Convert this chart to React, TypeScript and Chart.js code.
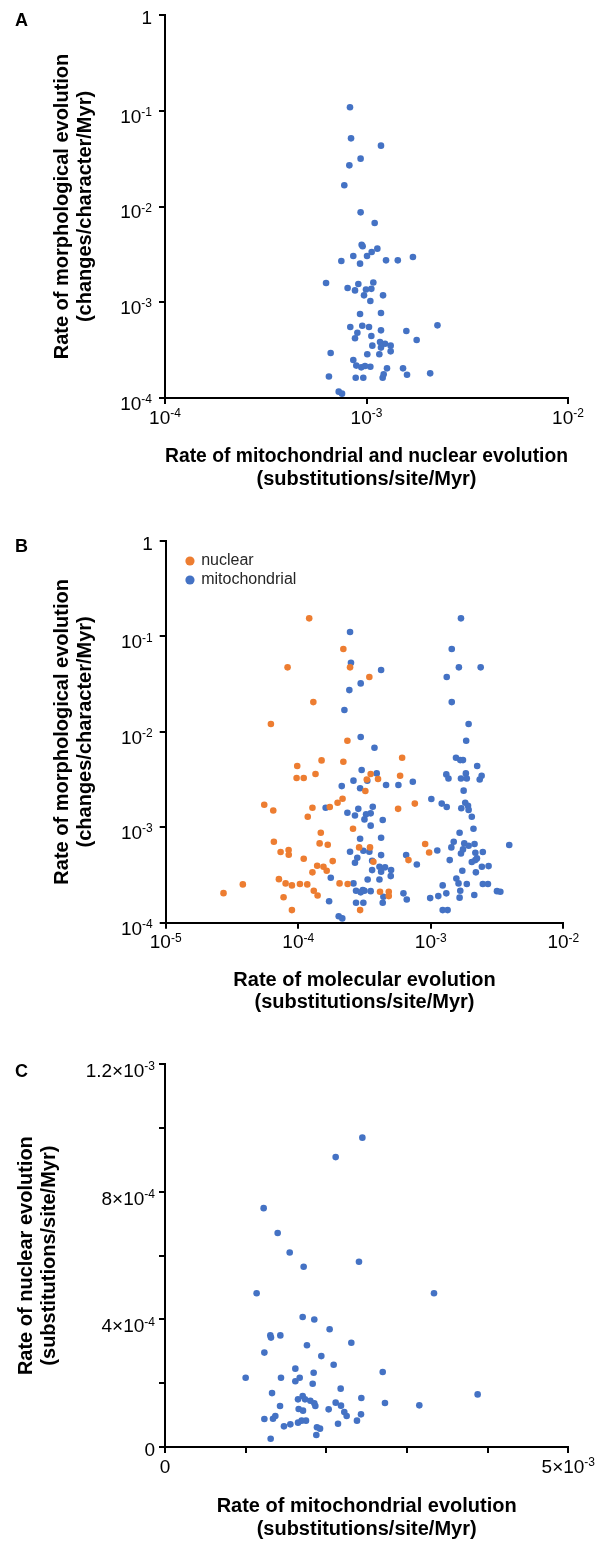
import React, { useEffect, useRef } from 'react';
import { Chart, registerables } from 'chart.js';

Chart.register(...registerables);

const FONT = "'Liberation Sans', Arial, Helvetica, sans-serif";
const BLUE = '#4472C4';
const ORANGE = '#ED7D31';
const INK = '#000000';
const TICK_SIZE = 19;
const SUP_SIZE = 12;
const SUP_RAISE = 6.7;

// ---------------- Panel A ----------------
const aMolecularRate = [
  8.28e-4, 8.38e-4, 1.18e-3, 9.35e-4, 8.22e-4, 7.76e-4, 9.35e-4, 1.098e-3, 9.46e-4, 9.57e-4,
  1.132e-3, 1.061e-3, 1.006e-3, 8.6e-4, 1.7e-3, 7.5e-4, 1.25e-3, 1.43e-3, 9.29e-4, 6.3e-4,
  1.081e-3, 9.11e-4, 8.06e-4, 8.77e-4, 9.94e-4, 1.057e-3, 9.72e-4, 1.208e-3, 1.045e-3, 9.29e-4,
  1.18e-3, 8.31e-4, 9.53e-4, 1.029e-3, 1.18e-3, 2.25e-3, 1.577e-3, 9.01e-4, 8.77e-4, 1.057e-3,
  1.774e-3, 1.167e-3, 1.236e-3, 1.318e-3, 1.069e-3, 1.18e-3, 1.318e-3, 6.64e-4, 1.009e-3, 1.158e-3,
  8.6e-4, 8.9e-4, 9.42e-4, 9.83e-4, 1.045e-3, 1.264e-3, 1.518e-3, 6.51e-4, 8.84e-4, 9.64e-4,
  1.203e-3, 1.217e-3, 1.589e-3, 2.07e-3, 7.28e-4, 7.56e-4,
];
const aMorphRate = [
  0.1086, 0.0515, 0.0432, 0.0316, 0.0269, 0.01664, 8.69e-3, 6.73e-3, 3.99e-3, 3.84e-3,
  3.63e-3, 3.35e-3, 3.04e-3, 3.04e-3, 2.97e-3, 2.7e-3, 2.74e-3, 2.74e-3, 2.53e-3, 1.59e-3,
  1.61e-3, 1.55e-3, 1.41e-3, 1.33e-3, 1.36e-3, 1.38e-3, 1.18e-3, 1.18e-3, 1.03e-3, 7.54e-4,
  7.73e-4, 5.52e-4, 5.69e-4, 5.52e-4, 5.09e-4, 5.74e-4, 5.01e-4, 4.81e-4, 4.2e-4, 4.44e-4,
  4.03e-4, 3.85e-4, 3.69e-4, 3.52e-4, 3.52e-4, 3.36e-4, 3.07e-4, 2.95e-4, 2.86e-4, 2.86e-4,
  2.49e-4, 2.18e-4, 2.09e-4, 2.16e-4, 2.12e-4, 2.04e-4, 2.04e-4, 1.68e-4, 1.63e-4, 1.63e-4,
  1.63e-4, 1.77e-4, 1.75e-4, 1.81e-4, 1.165e-4, 1.11e-4,
];
const morphTicks = [1e-4, 1e-3, 1e-2, 1e-1, 1];
const morphTickBase = ['10', '10', '10', '10', '1'];
const morphTickExp = ['-4', '-3', '-2', '-1', ''];
const aXTicks = [1e-4, 1e-3, 1e-2];
const aXTickBase = ['10', '10', '10'];
const aXTickExp = ['-4', '-3', '-2'];

// ---------------- Panel B ----------------
const bNuclearRate = [
  1.21e-4, 8.31e-5, 1.3e-4, 6.22e-5, 1.5e-4, 9.83e-5, 9.72e-5, 1.1e-4, 1.35e-4, 5.54e-5,
  6.48e-5, 1.28e-4, 1.18e-4, 1.73e-4, 1.98e-4, 1.48e-4, 6.55e-5, 1.45e-4, 1.67e-4, 7.36e-5,
  8.46e-5, 8.48e-5, 1.1e-4, 1.39e-4, 1.55e-4, 1.82e-4, 1.28e-4, 1.64e-4, 7.15e-5, 3.82e-5,
  2.73e-5, 8.03e-5, 8.96e-5, 1.03e-4, 1.17e-4, 1.31e-4, 1.4e-4, 7.75e-5, 8.96e-5, 2.05e-4,
  2.36e-4,
  2.19e-4, 2.46e-4, 3.44e-4, 2.35e-4, 2.19e-4, 6.08e-4, 3.29e-4, 3.52e-4, 4.0e-4, 5.87e-4,
  3.21e-4, 2.16e-4, 5.67e-4, 7.58e-4, 2.59e-4, 2.88e-4, 3.48e-4, 3.69e-4, 9.07e-4, 9.72e-4,
  6.79e-4, 4.14e-4, 4.82e-4, 4.82e-4, 2.93e-4,
];
const bNuclearMorph = [
  0.1546, 0.0474, 0.0205, 0.01208, 5.02e-3, 4.38e-3, 3.28e-3, 3.28e-3, 3.61e-3, 1.72e-3,
  1.5e-3, 1.6e-3, 1.29e-3, 1.63e-3, 1.81e-3, 8.77e-4, 7.05e-4, 6.78e-4, 6.56e-4, 5.5e-4,
  5.77e-4, 5.15e-4, 4.68e-4, 3.95e-4, 3.86e-4, 4.42e-4, 3.37e-4, 3.5e-4, 2.86e-4, 2.52e-4,
  2.04e-4, 2.58e-4, 2.46e-4, 2.54e-4, 2.52e-4, 2.16e-4, 1.93e-4, 1.85e-4, 1.355e-4, 2.58e-4,
  2.54e-4,
  0.0738, 0.0474, 0.0375, 8.07e-3, 4.86e-3, 5.36e-3, 3.17e-3, 3.61e-3, 3.2e-3, 3.47e-3,
  2.4e-3, 1.99e-3, 1.56e-3, 1.77e-3, 9.65e-4, 6.15e-4, 6.15e-4, 4.35e-4, 6.67e-4, 5.45e-4,
  4.53e-4, 2.11e-4, 2.11e-4, 1.9e-4, 1.355e-4,
];
const bMitoRate = [
  1.61e-4, 1.76e-4, 1.71e-4, 2.02e-4, 2.15e-4,
  2.46e-4, 2.5e-4, 4.22e-4, 2.96e-4, 2.43e-4, 2.23e-4, 2.96e-4, 3.76e-4, 3.01e-4, 2.61e-4,
  3.91e-4, 3.32e-4, 4.6e-4, 5.7e-4, 7.32e-4, 2.13e-4, 2.93e-4, 2.35e-4, 2.68e-4, 2.84e-4,
  3.16e-4, 3.65e-4, 3.52e-4, 3.25e-4, 3.52e-4, 4.34e-4, 2.93e-4, 4.22e-4, 2.46e-4, 2.79e-4,
  2.68e-4, 3.1e-4, 3.44e-4, 3.61e-4, 4.22e-4, 3.61e-4, 4.1e-4, 4.52e-4, 5.02e-4, 4.22e-4,
  4.99e-4, 4.1e-4, 3.34e-4, 2.61e-4, 2.73e-4, 3.16e-4, 3.52e-4, 3.07e-4, 2.96e-4, 4.39e-4,
  4.34e-4, 2.73e-4, 3.1e-4, 6.22e-4, 6.59e-4, 6.52e-4, 7.85e-4,
  1.69e-3, 1.44e-3, 1.63e-3, 2.38e-3, 1.32e-3, 1.44e-3, 1.93e-3, 1.85e-3, 1.55e-3, 1.67e-3,
  1.75e-3, 2.24e-3, 1.31e-3, 1.36e-3, 1.69e-3, 1.84e-3, 1.87e-3, 2.42e-3, 2.34e-3, 1.77e-3,
  1.01e-3, 1.21e-3, 1.32e-3, 1.7e-3, 1.82e-3, 1.91e-3, 1.93e-3, 2.04e-3, 2.1e-3, 1.65e-3,
  1.49e-3, 1.43e-3, 1.79e-3, 1.93e-3, 2.14e-3, 3.91e-3, 1.12e-3, 1.69e-3, 1.75e-3, 2.17e-3,
  2.47e-3, 1.39e-3, 2.04e-3, 2.17e-3, 2.23e-3, 2.43e-3, 2.73e-3, 1.73e-3, 2.19e-3, 1.56e-3,
  1.62e-3, 1.87e-3, 2.47e-3, 2.7e-3, 1.23e-3, 1.31e-3, 1.14e-3, 9.9e-4, 1.67e-3, 1.65e-3,
  2.13e-3, 3.16e-3, 3.35e-3, 1.23e-3, 1.34e-3,
];
const bMitoMorph = [
  1.6e-3, 2.96e-4, 1.68e-4, 1.17e-4, 1.11e-4,
  0.1112, 0.053, 0.0444, 0.0322, 0.0274, 0.01692, 8.82e-3, 6.82e-3, 3.98e-3, 3.08e-3,
  3.67e-3, 3.08e-3, 2.77e-3, 2.77e-3, 3.0e-3, 2.7e-3, 2.56e-3, 1.42e-3, 1.33e-3, 1.56e-3,
  1.21e-3, 1.64e-3, 1.4e-3, 1.37e-3, 1.04e-3, 1.19e-3, 7.58e-4, 7.77e-4, 5.54e-4, 4.79e-4,
  4.25e-4, 5.68e-4, 5.54e-4, 4.46e-4, 5.11e-4, 3.56e-4, 3.86e-4, 3.8e-4, 3.56e-4, 3.42e-4,
  3.08e-4, 2.84e-4, 2.84e-4, 2.58e-4, 2.16e-4, 2.16e-4, 2.14e-4, 2.2e-4, 2.08e-4, 1.87e-4,
  1.62e-4, 1.62e-4, 1.62e-4, 2.03e-4, 1.75e-4, 5.11e-4, 4.08e-4,
  0.1547, 0.0738, 0.0474, 0.0474, 0.0375, 0.0205, 0.01208, 8.07e-3, 5.36e-3, 5.06e-3,
  5.06e-3, 4.38e-3, 3.58e-3, 3.25e-3, 3.25e-3, 3.67e-3, 3.25e-3, 3.47e-3, 3.17e-3, 2.42e-3,
  1.98e-3, 1.77e-3, 1.63e-3, 1.58e-3, 1.81e-3, 1.68e-3, 1.52e-3, 1.29e-3, 9.65e-4, 8.77e-4,
  7.05e-4, 6.15e-4, 6.78e-4, 6.4e-4, 6.67e-4, 6.51e-4, 5.72e-4, 5.32e-4, 5.86e-4, 5.41e-4,
  5.5e-4, 4.53e-4, 4.32e-4, 4.53e-4, 4.72e-4, 3.86e-4, 3.92e-4, 3.5e-4, 3.37e-4, 2.91e-4,
  2.58e-4, 2.54e-4, 2.54e-4, 2.54e-4, 2.46e-4, 2.03e-4, 1.9e-4, 1.81e-4, 2.16e-4, 1.83e-4,
  1.95e-4, 2.14e-4, 2.11e-4, 1.355e-4, 1.355e-4,
];
const bXTicks = [1e-5, 1e-4, 1e-3, 1e-2];
const bXTickBase = ['10', '10', '10', '10'];
const bXTickExp = ['-5', '-4', '-3', '-2'];

// ---------------- Panel C ----------------
const cMitoRate = [
  2.447e-3, 2.116e-3, 1.223e-3, 1.397e-3, 1.546e-3, 2.405e-3, 1.719e-3, 1.136e-3, 3.335e-3, 1.707e-3,
  1.851e-3, 2.041e-3, 1.306e-3, 1.314e-3, 1.43e-3, 1.76e-3, 2.31e-3, 1.232e-3, 1.938e-3, 2.091e-3,
  1.616e-3, 2.699e-3, 1.0e-3, 1.438e-3, 1.67e-3, 1.616e-3, 1.843e-3, 1.831e-3, 2.178e-3, 1.327e-3,
  3.876e-3, 1.707e-3, 1.649e-3, 1.736e-3, 1.802e-3, 1.851e-3, 1.864e-3, 2.434e-3, 2.727e-3, 3.153e-3,
  1.426e-3, 2.116e-3, 2.182e-3, 2.223e-3, 2.252e-3, 1.657e-3, 1.711e-3, 2.029e-3, 2.43e-3, 1.232e-3,
  1.339e-3, 1.368e-3, 1.475e-3, 1.554e-3, 1.649e-3, 1.694e-3, 1.748e-3, 1.884e-3, 1.922e-3, 1.876e-3,
  2.145e-3, 2.38e-3, 1.31e-3,
];
const cNuclearRate = [
  9.7e-4, 9.09e-4, 7.49e-4, 6.71e-4, 6.1e-4, 5.81e-4, 5.65e-4, 4.82e-4, 4.82e-4, 4.075e-4,
  4.0e-4, 3.69e-4, 3.5e-4, 3.43e-4, 3.5e-4, 3.19e-4, 3.27e-4, 2.96e-4, 2.85e-4, 2.58e-4,
  2.456e-4, 2.35e-4, 2.173e-4, 2.173e-4, 2.173e-4, 2.06e-4, 2.33e-4, 1.985e-4, 1.83e-4, 1.69e-4,
  1.65e-4, 1.6e-4, 1.494e-4, 1.494e-4, 1.452e-4, 1.37e-4, 1.285e-4, 1.536e-4, 1.38e-4, 1.306e-4,
  1.285e-4, 1.39e-4, 1.296e-4, 1.097e-4, 9.72e-5, 1.19e-4, 1.14e-4, 1.18e-4, 1.024e-4, 8.78e-5,
  8.88e-5, 9.72e-5, 6.48e-5, 7.11e-5, 7.63e-5, 8.26e-5, 8.26e-5, 6.17e-5, 5.75e-5, 3.76e-5,
  7.31e-5, 8.26e-5, 2.61e-5,
];
const cXTicks = [0, 0.001, 0.002, 0.003, 0.004, 0.005];
const cXTickBase = ['0', '', '', '', '', '5×10'];
const cXTickExp = ['', '', '', '', '', '-3'];
const cYTicks = [0, 0.0002, 0.0004, 0.0006, 0.0008, 0.001, 0.0012];
const cYTickBase = ['0', '', '4×10', '', '8×10', '', '1.2×10'];
const cYTickExp = ['', '', '-4', '', '-4', '', '-3'];

const titleMorph = ['Rate of morphological evolution', '(changes/character/Myr)'];
const titleA_X = ['Rate of mitochondrial and nuclear evolution', '(substitutions/site/Myr)'];
const titleB_X = ['Rate of molecular evolution', '(substitutions/site/Myr)'];
const titleC_X = ['Rate of mitochondrial evolution', '(substitutions/site/Myr)'];
const titleC_Y = ['Rate of nuclear evolution', '(substitutions/site/Myr)'];

type AxisSpec = {
  type: 'linear' | 'logarithmic';
  min: number;
  max: number;
  ticks: number[];
  base: string[];
  exp: string[];
  title: string[];
  size: number;
  titlePadding: { top: number; bottom: number };
};

function makeAxis(spec: AxisSpec, horizontal: boolean): any {
  return {
    type: spec.type,
    position: horizontal ? 'bottom' : 'left',
    min: spec.min,
    max: spec.max,
    afterBuildTicks: (scale: any) => {
      scale.ticks = spec.ticks.map((v) => ({ value: v }));
    },
    afterFit: (scale: any) => {
      if (horizontal) scale.height = spec.size;
      else scale.width = spec.size;
    },
    border: { display: true, color: INK, width: 2 },
    grid: {
      display: true,
      drawOnChartArea: false,
      drawTicks: true,
      tickLength: 6,
      color: INK,
      lineWidth: 2,
    },
    ticks: {
      display: false,
      autoSkip: false,
      callback: (_v: any, i: number) => spec.base[i] + (spec.exp[i] ? '^' + spec.exp[i] : ''),
    },
    title: {
      display: true,
      text: spec.title,
      color: INK,
      font: { family: FONT, size: 20, weight: 'bold', lineHeight: 1.13 },
      padding: spec.titlePadding,
    },
  };
}

// Tick labels with a raised exponent, drawn at the positions given by the scales.
function drawTickLabel(ctx: CanvasRenderingContext2D, base: string, exp: string, x: number, baseline: number, align: 'center' | 'right') {
  if (!base) return;
  ctx.font = `${TICK_SIZE}px ${FONT}`;
  const wb = ctx.measureText(base).width;
  ctx.font = `${SUP_SIZE}px ${FONT}`;
  const we = exp ? ctx.measureText(exp).width : 0;
  const total = wb + we;
  const start = align === 'center' ? x - total / 2 : x - total;
  ctx.textAlign = 'left';
  ctx.textBaseline = 'alphabetic';
  ctx.fillStyle = INK;
  ctx.font = `${TICK_SIZE}px ${FONT}`;
  ctx.fillText(base, start, baseline);
  if (exp) {
    ctx.font = `${SUP_SIZE}px ${FONT}`;
    ctx.fillText(exp, start + wb, baseline - SUP_RAISE);
  }
}

function makeTickLabelPlugin(xs: AxisSpec, ys: AxisSpec, yGap: number, yShift: number) {
  return {
    id: 'supTickLabels',
    afterDraw(chart: any) {
      const ctx: CanvasRenderingContext2D = chart.ctx;
      const sx = chart.scales.x;
      const sy = chart.scales.y;
      const cap = TICK_SIZE * 0.716;
      ctx.save();
      sx.ticks.forEach((t: any, i: number) => {
        const px = sx.getPixelForValue(t.value);
        drawTickLabel(ctx, xs.base[i], xs.exp[i], px, sx.top + 12 + cap, 'center');
      });
      sy.ticks.forEach((t: any, i: number) => {
        const py = sy.getPixelForValue(t.value);
        const shift = ys.exp[i] ? yShift : 2;
        drawTickLabel(ctx, ys.base[i], ys.exp[i], sy.right - yGap, py + shift + cap / 2, 'right');
      });
      ctx.restore();
    },
  };
}

function pts(xs: number[], ys: number[]) {
  return xs.map((x, i) => ({ x, y: ys[i] }));
}

function dataset(label: string, xs: number[], ys: number[], color: string) {
  return {
    label,
    data: pts(xs, ys),
    backgroundColor: color,
    borderColor: color,
    borderWidth: 0,
    pointRadius: 3.3,
    pointHoverRadius: 3.3,
    pointBorderWidth: 0,
    pointStyle: 'circle',
  };
}

const legendShift = {
  id: 'legendShift',
  afterLayout(chart: any) {
    const l = chart.legend;
    const ca = chart.chartArea;
    if (l && l.options && l.options.display) {
      l.left = ca.left + 18;
      l.right = ca.right;
      l.top = ca.top + 9;
      l.bottom = ca.bottom;
    }
  },
};

function baseOptions(padding: any, x: any, y: any, legend: any): any {
  return {
    responsive: false,
    animation: false,
    devicePixelRatio: 1,
    layout: { padding },
    events: [],
    plugins: {
      legend,
      tooltip: { enabled: false },
      title: { display: false },
    },
    scales: { x, y },
  };
}

const axisAX: AxisSpec = { type: 'logarithmic', min: 1e-4, max: 1e-2, ticks: aXTicks, base: aXTickBase, exp: aXTickExp, title: titleA_X, size: 102, titlePadding: { top: 0, bottom: 9.7 } };
const axisAY: AxisSpec = { type: 'logarithmic', min: 1e-4, max: 1, ticks: morphTicks, base: morphTickBase, exp: morphTickExp, title: titleMorph, size: 165, titlePadding: { top: 51.1, bottom: 0 } };
const axisBX: AxisSpec = { type: 'logarithmic', min: 1e-5, max: 1e-2, ticks: bXTicks, base: bXTickBase, exp: bXTickExp, title: titleB_X, size: 107.3, titlePadding: { top: 0, bottom: 16 } };
const axisBY: AxisSpec = { type: 'logarithmic', min: 1e-4, max: 1, ticks: morphTicks, base: morphTickBase, exp: morphTickExp, title: titleMorph, size: 165.7, titlePadding: { top: 51.1, bottom: 0 } };
const axisCX: AxisSpec = { type: 'linear', min: 0, max: 0.005, ticks: cXTicks, base: cXTickBase, exp: cXTickExp, title: titleC_X, size: 95, titlePadding: { top: 0, bottom: 1.7 } };
const axisCY: AxisSpec = { type: 'linear', min: 0, max: 0.0012, ticks: cYTicks, base: cYTickBase, exp: cYTickExp, title: titleC_Y, size: 165, titlePadding: { top: 15.5, bottom: 0 } };

const configA: any = {
  type: 'scatter',
  data: { datasets: [dataset('mitochondrial and nuclear', aMolecularRate, aMorphRate, BLUE)] },
  options: baseOptions({ top: 15, right: 30, bottom: 0, left: 0 }, makeAxis(axisAX, true), makeAxis(axisAY, false), { display: false }),
  plugins: [makeTickLabelPlugin(axisAX, axisAY, 13, 5)],
};

const configB: any = {
  type: 'scatter',
  data: {
    datasets: [
      dataset('nuclear', bNuclearRate, bNuclearMorph, ORANGE),
      dataset('mitochondrial', bMitoRate, bMitoMorph, BLUE),
    ],
  },
  options: baseOptions(
    { top: 41, right: 34.7, bottom: 0, left: 0 },
    makeAxis(axisBX, true),
    makeAxis(axisBY, false),
    {
      display: true,
      position: 'chartArea',
      align: 'start',
      labels: {
        usePointStyle: true,
        pointStyle: 'circle',
        boxWidth: 6.5,
        boxHeight: 6.5,
        padding: 3,
        color: '#262626',
        font: { family: FONT, size: 16 },
      },
    },
  ),
  plugins: [legendShift, makeTickLabelPlugin(axisBX, axisBY, 13, 5)],
};

const configC: any = {
  type: 'scatter',
  data: { datasets: [dataset('rates', cMitoRate, cNuclearRate, BLUE)] },
  options: baseOptions({ top: 34.3, right: 29.7, bottom: 0, left: 0 }, makeAxis(axisCX, true), makeAxis(axisCY, false), { display: false }),
  plugins: [makeTickLabelPlugin(axisCX, axisCY, 10, 6)],
};

function Panel({ config, top, height, letter, letterTop }: any) {
  const ref = useRef<HTMLCanvasElement>(null);
  useEffect(() => {
    const chart = new Chart(ref.current as HTMLCanvasElement, config);
    return () => chart.destroy();
  }, [config]);
  return (
    <>
      <canvas
        ref={ref}
        width={598}
        height={height}
        style={{ position: 'absolute', left: 0, top, width: 598, height }}
      />
      <div
        style={{
          position: 'absolute',
          left: 15,
          top: letterTop,
          fontFamily: FONT,
          fontWeight: 'bold',
          fontSize: 18,
          lineHeight: '18px',
          color: INK,
        }}
      >
        {letter}
      </div>
    </>
  );
}

export default function App() {
  return (
    <div style={{ position: 'absolute', left: 0, top: 0, width: 598, height: 1542, background: '#fff', overflow: 'hidden' }}>
      <Panel config={configA} top={0} height={500} letter="A" letterTop={11} />
      <Panel config={configB} top={500} height={530} letter="B" letterTop={537} />
      <Panel config={configC} top={1030} height={512} letter="C" letterTop={1062} />
    </div>
  );
}
